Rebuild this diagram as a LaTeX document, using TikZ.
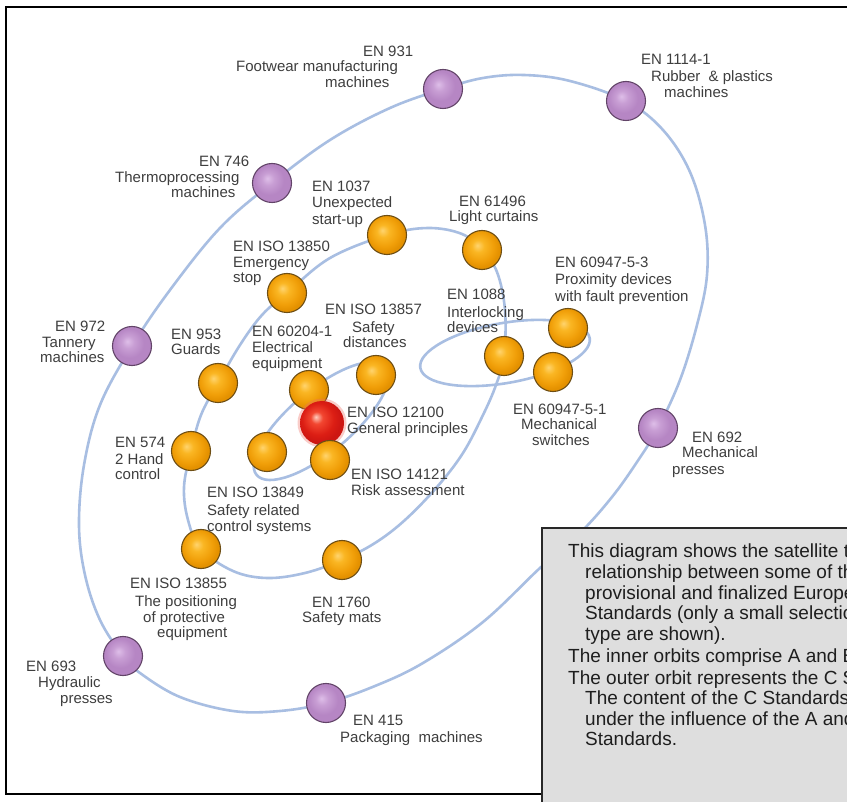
\documentclass[tikz,border=0pt]{standalone}
\usepackage{fontspec}
\setmainfont{Liberation Sans}
\definecolor{orbitblue}{RGB}{168,190,226}
\definecolor{lblgray}{RGB}{62,62,62}
\definecolor{boxtext}{RGB}{30,30,30}
\definecolor{boxfill}{RGB}{222,222,222}
\definecolor{boxline}{RGB}{40,40,40}
\definecolor{oHi}{RGB}{255,212,110}
\definecolor{oMid}{RGB}{250,182,35}
\definecolor{oLo}{RGB}{240,158,8}
\definecolor{oEdge}{RGB}{228,145,0}
\definecolor{oBorder}{RGB}{110,78,20}
\definecolor{pHi}{RGB}{222,190,232}
\definecolor{pMid}{RGB}{200,158,212}
\definecolor{pLo}{RGB}{182,134,196}
\definecolor{pBorder}{RGB}{98,68,104}
\definecolor{rHi}{RGB}{255,205,190}
\definecolor{rMid}{RGB}{242,70,48}
\definecolor{rLo}{RGB}{220,30,20}
\definecolor{rEdge}{RGB}{205,22,18}
\definecolor{rGlow}{RGB}{240,110,100}
\pgfdeclareradialshading{orangeball}{\pgfpoint{-6bp}{6bp}}{color(0bp)=(oHi); color(8bp)=(oMid); color(19bp)=(oLo); color(25bp)=(oEdge); color(50bp)=(oEdge)}
\pgfdeclareradialshading{purpleball}{\pgfpoint{-6bp}{6bp}}{color(0bp)=(pHi); color(8bp)=(pMid); color(19bp)=(pLo); color(25bp)=(pLo); color(50bp)=(pLo)}
\pgfdeclareradialshading{redball}{\pgfpoint{-7bp}{7bp}}{color(0bp)=(rHi); color(7bp)=(rMid); color(18bp)=(rLo); color(25bp)=(rEdge); color(50bp)=(rEdge)}
\begin{document}
\begin{tikzpicture}[x=1pt,y=-1pt,
  orbit/.style={draw=orbitblue, line width=2.6pt},
  oball/.style={circle, inner sep=0pt, minimum size=39pt, draw=oBorder, line width=1.1pt, shading=orangeball},
  pball/.style={circle, inner sep=0pt, minimum size=39pt, draw=pBorder, line width=1.1pt, shading=purpleball},
  rball/.style={circle, inner sep=0pt, minimum size=44pt, shading=redball},
  glow/.style={circle, inner sep=0pt, minimum size=49pt, fill=rGlow, opacity=0.35},
  lbl/.style={anchor=base west, inner sep=0pt, text=lblgray, font=\fontsize{15}{16}\selectfont},
  btxt/.style={anchor=base west, inner sep=0pt, text=boxtext, font=\fontsize{19}{20}\selectfont},
]
\useasboundingbox (0,0) rectangle (847,802);
\clip (0,0) rectangle (847,802);
\fill[white] (0,0) rectangle (847,802);
% frame
\draw[black, line width=1.3pt] (6,7) rectangle (870,794);

% orbits
\draw[orbit] plot[smooth cycle, tension=0.6] coordinates {
 (443,89) (483,78) (524,75) (570,81) (626,101) (663,130) (690,172) (705,225)
 (707,275) (697,325) (680,380) (658,428) (637,462) (612,497) (580,533) (540,568)
 (483,622) (423,663) (375,686) (326,703) (280,711) (233,711) (180,697) (140,673)
 (123,656) (100,620) (85,575) (79,525) (84,465) (100,405) (132,346) (170,290)
 (220,228) (272,183) (330,140) (390,108)};
\draw[orbit] plot[smooth cycle, tension=0.6] coordinates {
 (287,293) (330,258) (387,235) (428,228) (462,234) (482,250) (497,272) (505,310)
 (504,356) (496,385) (483,415) (463,453) (437,487) (405,520) (375,543) (342,560)
 (305,573) (267,578) (233,571) (201,549) (188,520) (184,487) (191,451) (201,415)
 (218,383) (240,345) (262,315)};
\draw[orbit, rotate around={10:(505,353)}] (505,353) ellipse[x radius=86, y radius=30];
\draw[orbit, rotate around={40:(321,421)}] (321,421) ellipse[x radius=84, y radius=31];

% purple balls (C standards)
\node[pball] (c931) at (443,89) {};
\node[pball] (c1114) at (626,101) {};
\node[pball] (c746) at (272,183) {};
\node[pball] (c972) at (132,346) {};
\node[pball] (c692) at (658,428) {};
\node[pball] (c693) at (123,656) {};
\node[pball] (c415) at (326,703) {};

% orange balls
\node[oball] (c1037) at (387,235) {};
\node[oball] (c61496) at (482,250) {};
\node[oball] (c13850) at (287,293) {};
\node[oball] (c609473) at (568,328) {};
\node[oball] (c1088) at (504,356) {};
\node[oball] (c609471) at (553,372) {};
\node[oball] (c953) at (218,383) {};
\node[oball] (c13857) at (376,375) {};
\node[oball] (c60204) at (309,390) {};
\node[glow] (g12100) at (322,423) {};
\node[rball] (c12100) at (322,423) {};
\node[oball] (c574) at (191,451) {};
\node[oball] (c13849) at (267,452) {};
\node[oball] (c14121) at (330,460) {};
\node[oball] (c13855) at (201,549) {};
\node[oball] (c1760) at (342,560) {};

% labels
\node[lbl] (t931a) at (363,57) {EN 931};
\node[lbl] (t931b) at (236,72) {Footwear manufacturing};
\node[lbl] (t931c) at (325,88) {machines};
\node[lbl] (t1114a) at (641,65) {EN 1114-1};
\node[lbl] (t1114b) at (651,82) {Rubber\ \ \& plastics};
\node[lbl] (t1114c) at (664,98) {machines};
\node[lbl] (t746a) at (199,167) {EN 746};
\node[lbl] (t746b) at (115,183) {Thermoprocessing};
\node[lbl] (t746c) at (171,198) {machines};
\node[lbl] (t1037a) at (312,192) {EN 1037};
\node[lbl] (t1037b) at (312,208) {Unexpected};
\node[lbl] (t1037c) at (312,225) {start-up};
\node[lbl] (t61496a) at (459,207) {EN 61496};
\node[lbl] (t61496b) at (449,222) {Light curtains};
\node[lbl] (t13850a) at (233,252) {EN ISO 13850};
\node[lbl] (t13850b) at (233,268) {Emergency};
\node[lbl] (t13850c) at (233,283) {stop};
\node[lbl] (t609473a) at (555,268) {EN 60947-5-3};
\node[lbl] (t609473b) at (555,285) {Proximity devices};
\node[lbl] (t609473c) at (555,302) {with fault prevention};
\node[lbl] (t1088a) at (447,300) {EN 1088};
\node[lbl] (t1088b) at (447,318) {Interlocking};
\node[lbl] (t1088c) at (447,333) {devices};
\node[lbl] (t13857a) at (325,315) {EN ISO 13857};
\node[lbl] (t13857b) at (352,333) {Safety};
\node[lbl] (t13857c) at (343,348) {distances};
\node[lbl] (t953a) at (171,340) {EN 953};
\node[lbl] (t953b) at (171,355) {Guards};
\node[lbl] (t60204a) at (252,337) {EN 60204-1};
\node[lbl] (t60204b) at (252,353) {Electrical};
\node[lbl] (t60204c) at (252,369) {equipment};
\node[lbl] (t972a) at (55,332) {EN 972};
\node[lbl] (t972b) at (42,348) {Tannery};
\node[lbl] (t972c) at (40,363) {machines};
\node[lbl] (t12100a) at (347,418) {EN ISO 12100};
\node[lbl] (t12100b) at (347,434) {General principles};
\node[lbl] (t14121a) at (351,480) {EN ISO 14121};
\node[lbl] (t14121b) at (351,496) {Risk assessment};
\node[lbl] (t609471a) at (513,415) {EN 60947-5-1};
\node[lbl] (t609471b) at (521,430) {Mechanical};
\node[lbl] (t609471c) at (532,446) {switches};
\node[lbl] (t692a) at (692,443) {EN 692};
\node[lbl] (t692b) at (682,458) {Mechanical};
\node[lbl] (t692c) at (672,475) {presses};
\node[lbl] (t574a) at (115,448) {EN 574};
\node[lbl] (t574b) at (115,465) {2 Hand};
\node[lbl] (t574c) at (115,480) {control};
\node[lbl] (t13849a) at (207,498) {EN ISO 13849};
\node[lbl] (t13849b) at (207,515) {Safety related};
\node[lbl] (t13849c) at (207,531) {control systems};
\node[lbl] (t13855a) at (130,588) {EN ISO 13855};
\node[lbl] (t13855b) at (135,606) {The positioning};
\node[lbl] (t13855c) at (143,622) {of protective};
\node[lbl] (t13855d) at (157,637) {equipment};
\node[lbl] (t1760a) at (312,607) {EN 1760};
\node[lbl] (t1760b) at (302,622) {Safety mats};
\node[lbl] (t693a) at (26,671) {EN 693};
\node[lbl] (t693b) at (38,687) {Hydraulic};
\node[lbl] (t693c) at (60,703) {presses};
\node[lbl] (t415a) at (353,725) {EN 415};
\node[lbl] (t415b) at (340,742) {Packaging\ \ machines};

% text box
\draw[fill=boxfill, draw=boxline, line width=1.2pt] (542,528) rectangle (880,830);
\node[btxt] (b1) at (568,558) {This diagram shows the satellite type};
\node[btxt] (b2) at (585,578.5) {relationship between some of the};
\node[btxt] (b3) at (585,599) {provisional and finalized European};
\node[btxt] (b4) at (585,619.5) {Standards (only a small selection of each};
\node[btxt] (b5) at (585,640) {type are shown).};
\node[btxt] (b6) at (568,662) {The inner orbits comprise A and B Standards.};
\node[btxt] (b7) at (568,684) {The outer orbit represents the C Standards.};
\node[btxt] (b8) at (585,704.5) {The content of the C Standards is formed};
\node[btxt] (b9) at (585,725) {under the influence of the A and B};
\node[btxt] (b10) at (585,745.5) {Standards.};
\end{tikzpicture}
\end{document}
